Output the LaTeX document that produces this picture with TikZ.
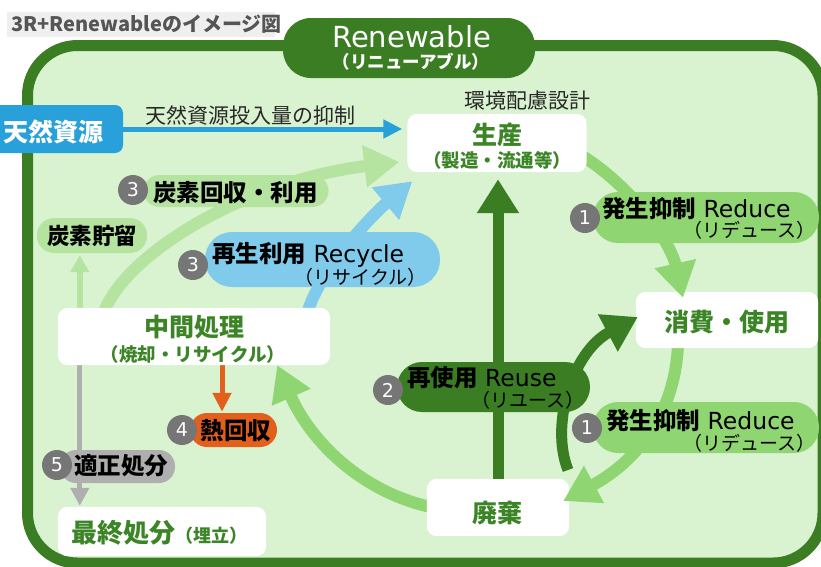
\documentclass[tikz,border=0pt]{standalone}
\usepackage{fontspec}
\setmainfont{DejaVu Sans}
\newfontfamily\jp{Noto Sans CJK JP}
\usetikzlibrary{arrows.meta,calc}
\definecolor{dkgreen}{RGB}{58,125,34}
\definecolor{bggreen}{RGB}{217,242,208}
\definecolor{txtgreen}{RGB}{59,133,38}
\definecolor{midgreen}{RGB}{143,214,114}
\definecolor{ltgreen}{RGB}{181,227,160}
\definecolor{srcblue}{RGB}{40,160,218}
\definecolor{ltblue}{RGB}{128,203,236}
\definecolor{heatorange}{RGB}{227,95,28}
\definecolor{pillgray}{RGB}{175,175,175}
\definecolor{numgray}{RGB}{118,118,118}
\definecolor{titlebg}{RGB}{239,239,239}
\definecolor{titletxt}{RGB}{85,85,85}
\definecolor{labeltxt}{RGB}{40,40,40}
\newcommand{\fsz}[1]{\fontsize{#1}{#1}\selectfont}
\pgfdeclarelayer{bg}
\pgfdeclarelayer{lo}
\pgfsetlayers{bg,lo,main}

\begin{document}
\begin{tikzpicture}[x=1pt,y=-1pt,
  txt/.style={inner sep=0pt, anchor=base},
  geom/.style={inner sep=0pt},
  boxfill/.style={fill=white, rounded corners=10pt},
  pillbox/.style={inner sep=0pt, rounded corners=#1},
  numc/.style={circle, fill=numgray, text=white, inner sep=0pt, minimum size=30pt, font=\fsz{19}},
  bigarrow/.style={line width=12pt, -{Triangle[length=35pt,width=40pt]}},
  boxtitle/.style={txt, text=txtgreen, font=\jp\bfseries\fsz{25}},
  boxsub/.style={txt, text=txtgreen, font=\jp\bfseries\fsz{18.5}},
  pilltxt/.style={txt, text=black, font=\fsz{23.5}},
  pillsub/.style={txt, anchor=base east, text=black, font=\jp\fsz{19}},
]
\useasboundingbox (0,0) rectangle (821,566);

% ---- frame
\begin{pgfonlayer}{bg}
\draw[dkgreen, line width=11pt, fill=bggreen, rounded corners=50pt] (27.5,45.5) rectangle (823,563);
\end{pgfonlayer}

% ---- box geometry
\path node[geom, minimum width=179pt, minimum height=58pt] (seisan) at (497,143) {};
\path node[geom, minimum width=182pt, minimum height=56pt] (shohi) at (727,320) {};
\path node[geom, minimum width=142pt, minimum height=57pt] (haiki) at (498,507.5) {};
\path node[geom, minimum width=272pt, minimum height=57pt] (chukan) at (194,336.5) {};
\path node[geom, minimum width=208pt, minimum height=49pt] (saishu) at (162,531.5) {};
\coordinate (reuseStart) at (568,470);

% ---- title and tab
\node[fill=titlebg, inner sep=0pt, minimum width=268pt, minimum height=25pt] (titlebox) at (141,24.5) {};
\node[txt, anchor=base west, text=titletxt, font=\jp\bfseries\fsz{20}] (titletext) at (11,31.5) {3R+Renewableのイメージ図};
\node[fill=dkgreen, rounded corners=28pt, inner sep=0pt, minimum width=252pt, minimum height=60pt] (tab) at (409,48) {};
\node[txt, text=white, font=\fsz{29}] (renewtxt) at (411.5,47) {Renewable};
\node[txt, text=white, font=\jp\bfseries\fsz{17.5}] (renewsub) at (411,68.7) {（リニューアブル）};

% ---- natural resources
\node[fill=srcblue, rounded corners=8pt, inner sep=0pt, minimum width=133pt, minimum height=48pt] (tennen) at (56.5,129) {};
\node[txt, text=white, font=\jp\bfseries\fsz{25}] (tennentxt) at (53,141.5) {天然資源};
\node[txt, text=labeltxt, font=\jp\fsz{21}] (inputlbl) at (250,123) {天然資源投入量の抑制};
\node[txt, text=labeltxt, font=\jp\fsz{21}] (ecolbl) at (527,108) {環境配慮設計};

% ---- pills
\node[pillbox=16pt, fill=ltgreen, minimum width=185pt, minimum height=32pt] (co2use) at (236,191) {};
\node[pillbox=17pt, fill=ltgreen, minimum width=110pt, minimum height=35pt] (co2store) at (92,235.5) {};
\node[pillbox=27pt, fill=ltblue, minimum width=235pt, minimum height=55pt] (recycle) at (322.5,259.5) {};
\node[pillbox=25pt, fill=dkgreen, minimum width=193pt, minimum height=50pt] (reuse) at (493.5,387) {};
\node[pillbox=25pt, fill=midgreen, minimum width=226pt, minimum height=51pt] (reduceA) at (706,217.5) {};
\node[pillbox=25pt, fill=midgreen, minimum width=226pt, minimum height=51pt] (reduceB) at (706,427.5) {};
\node[pillbox=17pt, fill=heatorange, minimum width=87pt, minimum height=34pt] (heat) at (233.5,430) {};
\node[pillbox=16pt, fill=pillgray, minimum width=115pt, minimum height=33pt] (dispose) at (117.5,466.5) {};

% ---- pill texts
\node[pilltxt, anchor=base west] (co2usetxt) at (153,201) {\jp\bfseries 炭素回収・利用};
\node[pilltxt] (co2storetxt) at (92,244) {\jp\bfseries\fsz{22.5}炭素貯留};
\node[pilltxt, anchor=base west] (rectxt) at (212,262) {{\jp\bfseries 再生利用}\ Recycle};
\node[pillsub] (recsub) at (427,284) {（リサイクル）};
\node[pilltxt, anchor=base west] (rutxt) at (407,386.5) {{\jp\bfseries 再使用}\ Reuse};
\node[pillsub] (rusub) at (585,407) {（リユース）};
\node[pilltxt, anchor=base west] (rdAtxt) at (602,217) {{\jp\bfseries 発生抑制}\ Reduce};
\node[pillsub] (rdAsub) at (816,237) {（リデュース）};
\node[pilltxt, anchor=base west] (rdBtxt) at (606,429) {{\jp\bfseries 発生抑制}\ Reduce};
\node[pillsub] (rdBsub) at (816,450) {（リデュース）};
\node[pilltxt] (heattxt) at (236,439) {\jp\bfseries 熱回収};
\node[pilltxt] (disptxt) at (121,474) {\jp\bfseries 適正処分};

% ---- number circles
\node[numc] (n3a) at (133,190) {3};
\node[numc] (n3b) at (193,265) {3};
\node[numc] (n2) at (388,390) {2};
\node[numc] (n1a) at (585,218) {1};
\node[numc] (n1b) at (587,428) {1};
\node[numc] (n4) at (182,430) {4};
\node[numc] (n5) at (57,465) {5};

% ---- box texts
\node[boxtitle] (seisantxt) at (497,144.5) {生産};
\node[boxsub] (seisansub) at (497,167) {（製造・流通等）};
\node[boxtitle] (shohitxt) at (727,331.5) {消費・使用};
\node[boxtitle] (haikitxt) at (497,522) {廃棄};
\node[boxtitle] (chukantxt) at (194,336.5) {中間処理};
\node[boxsub] (chukansub) at (193,361) {（焼却・リサイクル）};
\node[boxtitle, anchor=base west] (saishutxt) at (71,542) {\fsz{26}最終処分\fsz{18}（埋立）};

% ---- arrows and box fills, in stacking order
\begin{pgfonlayer}{lo}
\draw[ltgreen, bigarrow] ($(chukan.north west)+(47,2)$) .. controls (130,250) and (250,180) .. ($(seisan.west)+(-8,19)$);
\draw[ltblue, bigarrow] ($(chukan.north east)+(-22,2)$) .. controls (322,268) and (372,215) .. ($(seisan.south west)+(5,9)$);
\draw[ltgreen, line width=6pt, -{Triangle[length=17pt,width=18pt]}, shorten >=2pt] ($(chukan.north west)+(22,2)$) coordinate (storeFoot) -- (storeFoot |- co2store.south);
\draw[pillgray, line width=5pt, -{Triangle[length=18pt,width=18pt]}, shorten >=1pt] ($(chukan.south west)+(22,-2)$) coordinate (grayFoot) -- (grayFoot |- saishu.north);
\draw[heatorange, line width=5pt, -{Triangle[length=19pt,width=18pt]}, shorten >=1pt] ($(chukan.south)+(28,-2)$) coordinate (heatFoot) -- (heatFoot |- heat.north);
\fill[boxfill] (chukan.south west) rectangle (chukan.north east);
\fill[boxfill] (saishu.south west) rectangle (saishu.north east);

\draw[midgreen, bigarrow] ($(haiki.west)+(6,0)$) .. controls (360,492) and (310,440) .. ($(chukan.south east)+(-53,0)$);
\fill[boxfill] (haiki.south west) rectangle (haiki.north east);

\draw[midgreen, bigarrow] ($(shohi.south)+(-49,-4)$) .. controls (675,420) and (630,465) .. ($(haiki.east)+(-6,-6.5)$);
\draw[dkgreen, line width=11pt, -{Triangle[length=34pt,width=40pt]}, shorten >=7pt] (haiki.north) -- (haiki.north |- seisan.south);
\fill[boxfill] (shohi.south west) rectangle (shohi.north east);

\draw[dkgreen, line width=11pt, -{Triangle[length=34pt,width=40pt]}] (reuseStart) .. controls (550,425) and (572,352) .. ($(shohi.west)+(2,-3)$);
\draw[midgreen, bigarrow] ($(seisan.east)+(-6,12)$) .. controls (630,185) and (670,240) .. ($(shohi.north)+(-44,6)$);
\fill[boxfill] (seisan.south west) rectangle (seisan.north east);

\draw[srcblue, line width=5pt, -{Triangle[length=19pt,width=18pt]}, shorten >=5pt] (tennen.east) -- (tennen.east -| seisan.west);
\end{pgfonlayer}
\end{tikzpicture}
\end{document}
